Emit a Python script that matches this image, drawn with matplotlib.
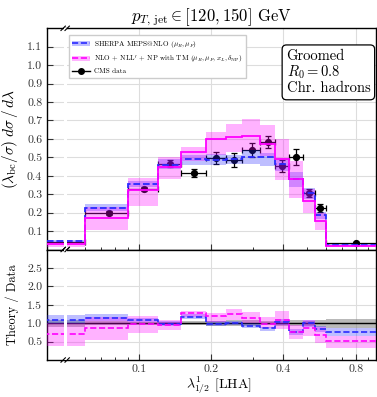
import numpy as np
import matplotlib
matplotlib.use("Agg")
import matplotlib.pyplot as plt
from matplotlib.patches import Patch
from matplotlib.lines import Line2D
from matplotlib.ticker import FixedLocator, NullFormatter, FixedFormatter

plt.rcParams['font.family'] = ['cmr10', 'DejaVu Serif']
plt.rcParams['mathtext.fontset'] = 'cm'
plt.rcParams['axes.formatter.use_mathtext'] = True
plt.rcParams['axes.unicode_minus'] = False

# ---------------- data ----------------
bin_edges = [0.0, 0.06, 0.09, 0.12, 0.15, 0.19, 0.23, 0.27, 0.32, 0.37, 0.42, 0.48, 0.54, 0.60, 1.0]

data = [0.043, 0.197, 0.327, 0.466, 0.415, 0.497, 0.488, 0.540, 0.583, 0.451, 0.500, 0.306, 0.224, 0.034]
data_err = [0.004, 0.010, 0.012, 0.020, 0.020, 0.033, 0.038, 0.040, 0.033, 0.032, 0.044, 0.022, 0.022, 0.004]

sherpa = [0.047, 0.227, 0.355, 0.457, 0.490, 0.485, 0.490, 0.500, 0.503, 0.465, 0.383, 0.305, 0.188, 0.0255]
sherpa_lo = [0.042, 0.208, 0.340, 0.435, 0.458, 0.460, 0.462, 0.465, 0.455, 0.424, 0.340, 0.272, 0.168, 0.022]
sherpa_hi = [0.052, 0.248, 0.373, 0.490, 0.515, 0.520, 0.515, 0.540, 0.526, 0.497, 0.420, 0.333, 0.205, 0.030]

nlo = [0.030, 0.169, 0.324, 0.448, 0.530, 0.600, 0.610, 0.615, 0.573, 0.490, 0.385, 0.265, 0.155, 0.018]
nlo_lo = [0.016, 0.108, 0.238, 0.380, 0.480, 0.510, 0.530, 0.540, 0.505, 0.379, 0.279, 0.200, 0.105, 0.011]
nlo_hi = [0.043, 0.230, 0.390, 0.500, 0.557, 0.635, 0.680, 0.707, 0.674, 0.597, 0.479, 0.330, 0.200, 0.022]

xticks = [0.1, 0.2, 0.4, 0.8]
xtick_labels = ["0.1", "0.2", "0.4", "0.8"]
xminor = [0.06, 0.07, 0.08, 0.09, 0.3, 0.5, 0.6, 0.7, 0.9]
yticks_top = [0.1, 0.2, 0.3, 0.4, 0.5, 0.6, 0.7, 0.8, 0.9, 1.0, 1.1]
yticks_bot = [0.5, 1.0, 1.5, 2.0, 2.5]

# ---------------- derived ----------------
XMIN, XMAX = 0.0416, 0.97
edges = np.array(bin_edges, dtype=float)
pedges = edges.copy()
pedges[0] = 1e-3  # zero bin drawn from outside the visible range
centers = 0.5 * (edges[:-1] + edges[1:])
xerr = 0.5 * (edges[1:] - edges[:-1])
data = np.array(data); data_err = np.array(data_err)
sherpa = np.array(sherpa); sherpa_lo = np.array(sherpa_lo); sherpa_hi = np.array(sherpa_hi)
nlo = np.array(nlo); nlo_lo = np.array(nlo_lo); nlo_hi = np.array(nlo_hi)

BLUE = '#2a2aff'
MAG = '#ff00ff'

W, H = 377, 397
fig = plt.figure(figsize=(W / 100, H / 100), dpi=100)
L, R = 47 / W, 376 / W
ax = fig.add_axes([L, 1 - 249.5 / H, R - L, (249.5 - 28.3) / H])
axr = fig.add_axes([L, 1 - 360 / H, R - L, (360 - 249.5) / H])

for a in (ax, axr):
    a.set_xscale('log')
    a.set_xlim(XMIN, XMAX)
    a.xaxis.set_major_locator(FixedLocator(xticks))
    a.xaxis.set_minor_locator(FixedLocator(xminor))
    a.xaxis.set_minor_formatter(NullFormatter())
    a.grid(True, which='major', color='#dddddd', lw=0.8, zorder=0)
    a.set_axisbelow(True)
    a.tick_params(which='both', direction='in', labelsize=8.5, colors='#333333')
    a.tick_params(which='major', length=4, width=0.8)
    a.tick_params(which='minor', length=2.5, width=0.7)
    for s in a.spines.values():
        s.set_linewidth(1.0)

# ---------------- top panel ----------------
ax.errorbar(centers, data, yerr=data_err, xerr=xerr, fmt='o', color='black',
            ms=4.2, lw=0.9, capsize=2, capthick=0.9, zorder=2, label='CMS data')
ax.stairs(sherpa_hi, pedges, baseline=sherpa_lo, fill=True, color=BLUE, alpha=0.3, lw=0, zorder=3)
ax.stairs(nlo_hi, pedges, baseline=nlo_lo, fill=True, color=MAG, alpha=0.3, lw=0, zorder=3)
ax.stairs(sherpa, pedges, color=BLUE, ls='--', lw=1.3, baseline=None, zorder=4)
ax.stairs(nlo, pedges, color=MAG, ls='-', lw=1.3, baseline=None, zorder=4)

ax.set_ylim(0, 1.2)
ax.yaxis.set_major_locator(FixedLocator(yticks_top))
ax.set_yticklabels([f"{v:.1f}" for v in yticks_top])
ax.set_xticklabels([])
ax.set_ylabel(r'$(\lambda_{\mathrm{bc}}/\sigma)\; d\sigma\,/\,d\lambda$', fontsize=11, labelpad=5)
ax.set_title(r'$p_{T,\,\mathrm{jet}} \in [120, 150]$ GeV', fontsize=12, pad=5)

h1 = (Patch(facecolor=BLUE, alpha=0.3, lw=0), Line2D([], [], color=BLUE, ls='--', lw=1.2))
h2 = (Patch(facecolor=MAG, alpha=0.3, lw=0), Line2D([], [], color=MAG, ls='--', lw=1.2))
h3 = Line2D([], [], color='black', marker='o', ms=4, lw=1.0)
leg = ax.legend([h1, h2, h3],
                [r'SHERPA MEPS@NLO $(\mu_R, \mu_F)$',
                 r"NLO + NLL$'$ + NP with TM $(\mu_R, \mu_F, x_L, \delta_{\mathrm{NP}})$",
                 'CMS data'],
                loc='upper left', bbox_to_anchor=(0.055, 0.985), fontsize=5.2,
                fancybox=False, edgecolor='#cccccc', framealpha=1, handlelength=2.4,
                borderpad=0.5, labelspacing=0.45, handletextpad=0.6)
leg.set_zorder(10)

ax.text(0.728, 0.905, 'Groomed\n$R_0 = 0.8$\nChr. hadrons', transform=ax.transAxes,
        ha='left', va='top', fontsize=10.5, linespacing=1.05, multialignment='left',
        bbox=dict(boxstyle='round,pad=0.3', facecolor='white', edgecolor='black', lw=0.9),
        zorder=10)

# ---------------- ratio panel ----------------
axr.stairs(1 + data_err / data, pedges, baseline=1 - data_err / data, fill=True,
           color='grey', alpha=0.55, lw=0, zorder=2)
axr.axhline(1.0, color='black', lw=1.0, zorder=3)
axr.stairs(sherpa_hi / data, pedges, baseline=sherpa_lo / data, fill=True, color=BLUE, alpha=0.3, lw=0, zorder=4)
axr.stairs(nlo_hi / data, pedges, baseline=nlo_lo / data, fill=True, color=MAG, alpha=0.3, lw=0, zorder=4)
axr.stairs(sherpa / data, pedges, color=BLUE, ls='--', lw=1.2, baseline=None, zorder=5)
axr.stairs(nlo / data, pedges, color=MAG, ls='--', lw=1.2, baseline=None, zorder=5)

axr.set_ylim(0, 3)
axr.yaxis.set_major_locator(FixedLocator(yticks_bot))
axr.set_yticklabels([f"{v:.1f}" for v in yticks_bot])
axr.xaxis.set_major_formatter(FixedFormatter(xtick_labels))
axr.set_ylabel('Theory / Data', fontsize=9, labelpad=6)
fig.text(0.5 * (L + R) + 0.02, 1.5 / H, r'$\lambda^{1}_{1/2}$ [LHA]', fontsize=10,
         ha='center', va='bottom')

# ---------------- axis break ----------------
xb0, xb1 = 0.0489, 0.0502
for a in (ax, axr):
    a.axvspan(xb0, xb1, color='white', lw=0, zorder=6)

def break_marks(a, yfrac, hpx):
    xc = np.log(0.0495 / XMIN) / np.log(XMAX / XMIN)
    wpx = (R - L) * W
    for off in (-2.0, 2.0):
        xs = [xc + (off - 2.2) / wpx, xc + (off + 2.2) / wpx]
        ys = [yfrac - 2.2 / hpx, yfrac + 2.2 / hpx]
        a.plot(xs, ys, transform=a.transAxes, color='black', lw=0.8, clip_on=False, zorder=20)

htop = 249.5 - 28.3
hbot = 360 - 249.5
break_marks(ax, 1.0, htop)
break_marks(ax, 0.0, htop)
break_marks(axr, 1.0, hbot)
break_marks(axr, 0.0, hbot)

fig.savefig('out.png', dpi=100)
